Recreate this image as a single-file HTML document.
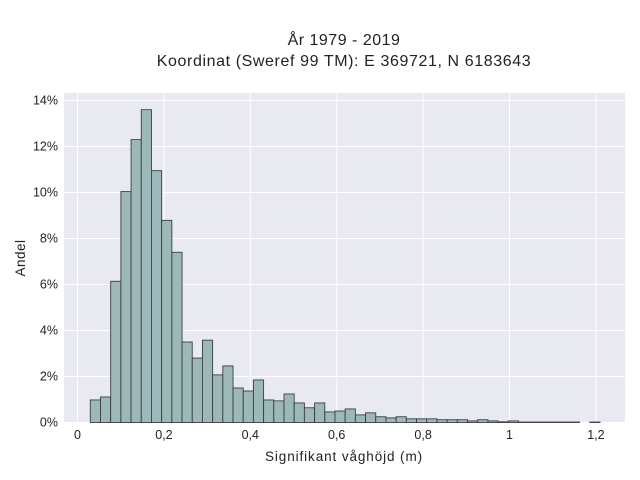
<!DOCTYPE html>
<html><head><meta charset="utf-8"><style>
body{margin:0;background:#fff;}
svg{display:block;font-family:"Liberation Sans",sans-serif;}
</style></head><body>
<svg id="chart" width="640" height="480" viewBox="0 0 640 480">
<rect x="64" y="93" width="561" height="330" fill="#e9e9f1"/>
<g id="grid"></g>
<g id="bars"></g>
<g id="ticks"></g>
<text x="344" y="45" text-anchor="middle" font-size="16" letter-spacing="0.5" fill="#222">År 1979 - 2019</text>
<text x="344" y="66" text-anchor="middle" font-size="16" letter-spacing="0.6" fill="#222">Koordinat (Sweref 99 TM): E 369721, N 6183643</text>
<text x="344" y="461" text-anchor="middle" font-size="13.5" letter-spacing="0.9" fill="#222">Signifikant våghöjd (m)</text>
<text transform="translate(25,258) rotate(-90)" text-anchor="middle" font-size="13.5" letter-spacing="0.5" fill="#222">Andel</text>
</svg>
<script>
const binStart = 0.0296;
const binWidth = 0.0236;
const values = [0.98,1.11,6.14,10.04,12.3,13.6,10.95,8.79,7.4,3.5,2.8,3.58,2.07,2.46,1.5,1.37,1.85,0.98,0.94,1.24,0.85,0.64,0.85,0.46,0.5,0.59,0.33,0.42,0.25,0.2,0.25,0.16,0.16,0.16,0.12,0.12,0.12,0.07,0.12,0.07,0.03,0.07,0.02,0.02,0.02,0.02,0.02,0.02,0,0.02];
const xTicks = [0,0.2,0.4,0.6,0.8,1,1.2];
const xTickLabels = ["0","0,2","0,4","0,6","0,8","1","1,2"];
const yTicks = [0,2,4,6,8,10,12,14];
const yTickLabels = ["0%","2%","4%","6%","8%","10%","12%","14%"];
const NS="http://www.w3.org/2000/svg";
const xs = v => 77.5 + v*432;
const ys = v => 422.5 - v*23.0;
const grid=document.getElementById('grid'), bars=document.getElementById('bars'), ticks=document.getElementById('ticks');
xTicks.forEach((t,i)=>{
  const l=document.createElementNS(NS,'line');
  
  
  l.setAttribute('x1',xs(t));l.setAttribute('x2',xs(t));l.setAttribute('y1',93);l.setAttribute('y2',423);
  l.setAttribute('stroke','#fff');l.setAttribute('stroke-width','1');grid.appendChild(l);
  const tx=document.createElementNS(NS,'text');
  
  
  tx.setAttribute('x',xs(t));tx.setAttribute('y',439);tx.setAttribute('text-anchor','middle');
  tx.setAttribute('font-size','12.5');tx.setAttribute('fill','#222');tx.textContent=xTickLabels[i];ticks.appendChild(tx);
});
yTicks.forEach((t,i)=>{
  const l=document.createElementNS(NS,'line');
  
  
  l.setAttribute('x1',64);l.setAttribute('x2',625);l.setAttribute('y1',ys(t));l.setAttribute('y2',ys(t));
  l.setAttribute('stroke','#fff');l.setAttribute('stroke-width','1');grid.appendChild(l);
  const tx=document.createElementNS(NS,'text');
  
  
  tx.setAttribute('x',58);tx.setAttribute('y',ys(t)+4);tx.setAttribute('text-anchor','end');
  tx.setAttribute('font-size','12.5');tx.setAttribute('fill','#222');tx.textContent=yTickLabels[i];ticks.appendChild(tx);
});
values.forEach((v,i)=>{
  if(v<=0) return;
  const x0=xs(binStart+i*binWidth), x1=xs(binStart+(i+1)*binWidth);
  const r=document.createElementNS(NS,'rect');
  
  
  r.setAttribute('x',x0);r.setAttribute('width',x1-x0);
  r.setAttribute('y',ys(v));r.setAttribute('height',ys(0)-ys(v));
  r.setAttribute('fill','#9db8b8');r.setAttribute('stroke','#3a3f3f');r.setAttribute('stroke-width','0.9');
  bars.appendChild(r);
});
</script>
</body></html>
